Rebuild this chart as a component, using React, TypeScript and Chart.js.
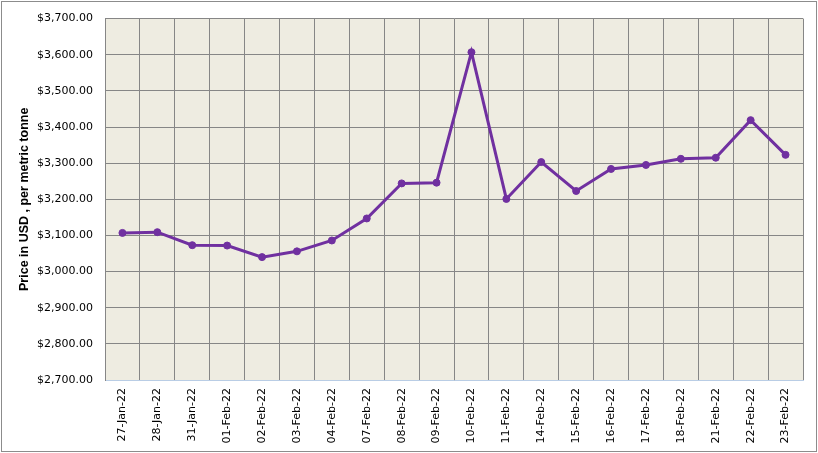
import React, { useEffect, useRef } from "react";
import { Chart, registerables } from "chart.js";

Chart.register(...registerables);

const categories = [
  "27-Jan-22", "28-Jan-22", "31-Jan-22", "01-Feb-22", "02-Feb-22", "03-Feb-22", "04-Feb-22",
  "07-Feb-22", "08-Feb-22", "09-Feb-22", "10-Feb-22", "11-Feb-22", "14-Feb-22", "15-Feb-22",
  "16-Feb-22", "17-Feb-22", "18-Feb-22", "21-Feb-22", "22-Feb-22", "23-Feb-22",
];
const prices = [
  3107, 3109, 3073, 3072, 3040, 3056, 3086,
  3147, 3244, 3246, 3607, 3201, 3303, 3223,
  3284, 3295, 3312, 3315, 3419, 3323,
];
const yMin = 2700;
const yMax = 3700;
const yStep = 100;
const yTitle = "Price in USD , per metric tonne";

const FONT = "'DejaVu Sans', Verdana, sans-serif";
const TITLE_FONT = "'Liberation Sans', Arial, sans-serif";

const bgPlugin = {
  id: "bgPlugin",
  beforeDraw(chart: any) {
    const { ctx, chartArea } = chart;
    ctx.save();
    ctx.fillStyle = "#ffffff";
    ctx.fillRect(0, 0, chart.width, chart.height);
    ctx.strokeStyle = "#8c8c8c";
    ctx.lineWidth = 1;
    ctx.strokeRect(1.5, 1.5, 815, 450);
    ctx.fillStyle = "#EEECE1";
    ctx.fillRect(chartArea.left, chartArea.top, chartArea.right - chartArea.left, chartArea.bottom - chartArea.top);
    ctx.restore();
  },
};

export default function App() {
  const ref = useRef<HTMLCanvasElement>(null);
  useEffect(() => {
    document.body.style.margin = "0";
    const chart = new Chart(ref.current!, {
      type: "line",
      data: {
        labels: categories,
        datasets: [
          {
            data: prices,
            borderColor: "#7030A0",
            backgroundColor: "#7030A0",
            borderWidth: 3,
            pointRadius: 3.5,
            pointBorderWidth: 1,
            pointBackgroundColor: "#7030A0",
            pointBorderColor: "#7030A0",
            tension: 0,
          },
        ],
      },
      options: {
        responsive: false,
        animation: false,
        layout: { padding: { left: 0, top: 15, right: 15, bottom: 0 } },
        plugins: { legend: { display: false }, tooltip: { enabled: false } },
        scales: {
          x: {
            offset: true,
            grid: { color: "#868686", lineWidth: 1, drawTicks: false, offset: true },
            border: { color: "#B9CDE5", width: 1 },
            ticks: {
              color: "#000",
              font: { family: FONT, size: 11 },
              maxRotation: 90,
              minRotation: 90,
              padding: 8,
              autoSkip: false,
            },
            afterFit(scale: any) {
              scale.height = 73;
            },
          },
          y: {
            min: yMin,
            max: yMax,
            grid: { color: "#868686", lineWidth: 1, drawTicks: false },
            border: { color: "#868686", width: 1 },
            ticks: {
              stepSize: yStep,
              color: "#000",
              font: { family: FONT, size: 11 },
              padding: 12,
              callback: (v: any) =>
                "$" + Number(v).toLocaleString("en-US", { minimumFractionDigits: 2, maximumFractionDigits: 2 }),
            },
            title: {
              display: true,
              text: yTitle,
              color: "#000",
              font: { family: TITLE_FONT, size: 12.5, weight: "bold" },
              padding: { top: 17, bottom: 0 },
            },
            afterFit(scale: any) {
              scale.width = 105;
            },
          },
        },
      },
      plugins: [bgPlugin],
    });
    return () => chart.destroy();
  }, []);
  return <canvas ref={ref} width={818} height={453} style={{ display: "block" }} />;
}
